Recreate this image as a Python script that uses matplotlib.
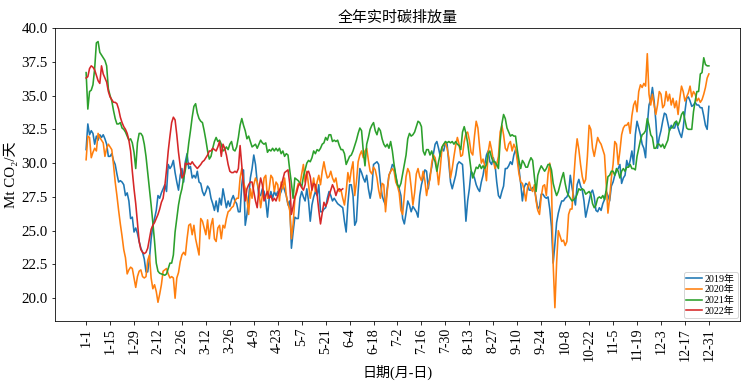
import numpy as np
import matplotlib
matplotlib.use("Agg")
import matplotlib.pyplot as plt

plt.rcParams['font.family'] = ['Liberation Serif', 'Noto Sans CJK SC', 'DejaVu Serif']
plt.rcParams['axes.unicode_minus'] = False

# daily emissions, Mt CO2 per day
y2019 = [
    31.0, 32.9, 32.1, 32.4, 32.2, 31.4, 32.0, 31.7, 32.1, 31.9, 32.1, 31.8, 31.4, 30.5,
    30.5, 30.7, 30.2, 29.9, 29.2, 28.6, 28.7, 28.6, 28.4, 27.6, 27.8, 27.2, 25.9, 26.0,
    24.9, 25.2, 24.8, 24.2, 23.7, 23.4, 22.9, 21.95, 21.95, 22.9, 24.4, 25.4, 25.9, 26.5,
    27.6, 27.4, 27.8, 28.1, 28.4, 27.9, 29.9, 29.6, 29.8, 30.2, 29.3, 28.6, 28.0, 29.1,
    29.6, 28.6, 30.1, 30.7, 29.6, 29.75, 28.9, 29.1, 28.9, 29.4, 28.6, 28.5, 27.9, 27.6,
    27.9, 28.3, 28.1, 27.4, 27.0, 26.5, 27.2, 26.4, 27.4, 26.9, 28.1, 27.4, 26.7, 27.2,
    26.8, 27.3, 27.6, 27.2, 27.0, 26.4, 26.4, 28.4, 29.5, 25.4, 26.2, 27.4, 28.9, 29.6,
    30.6, 29.9, 28.6, 27.6, 27.6, 28.1, 27.9, 27.2, 26.0, 27.4, 27.9, 27.4, 27.9, 27.6,
    27.9, 27.6, 27.9, 28.4, 28.0, 27.6, 26.9, 27.2, 23.7, 24.9, 26.0, 25.9, 25.9, 27.4,
    27.9, 27.5, 27.2, 28.1, 27.2, 25.7, 26.9, 27.5, 27.9, 27.6, 28.4, 26.4, 26.4, 26.6,
    26.7, 27.4, 27.9, 27.6, 27.2, 27.4, 27.2, 27.0, 26.9, 26.8, 26.7, 25.7, 24.9, 27.0,
    28.4, 28.4, 27.6, 25.4, 25.7, 27.9, 29.6, 29.3, 28.9, 28.6, 29.1, 28.1, 27.4, 28.1,
    29.9, 30.0, 30.1, 29.9, 28.6, 27.6, 27.2, 26.9, 28.1, 29.1, 29.4, 29.9, 29.75, 29.0,
    28.4, 28.1, 27.6, 25.9, 25.5, 26.3, 27.2, 26.9, 26.4, 26.8, 26.6, 26.4, 26.0, 27.6,
    28.4, 28.9, 29.5, 29.4, 28.1, 29.1, 29.7, 30.7, 31.4, 31.6, 31.1, 30.5, 31.1, 30.9,
    31.5, 31.4, 30.0, 28.6, 28.1, 28.6, 29.1, 29.9, 30.1, 30.0, 29.9, 28.0, 25.7, 27.2,
    28.1, 29.4, 29.2, 28.9, 28.4, 28.1, 27.9, 28.6, 29.1, 29.9, 30.6, 30.9, 30.1, 29.9,
    30.4, 29.9, 28.6, 27.6, 27.4, 27.9, 28.3, 29.6, 29.6, 29.8, 30.1, 29.9, 30.6, 31.0,
    30.5, 29.6, 28.5, 27.2, 28.2, 28.5, 28.4, 28.0, 28.0, 28.2, 28.1, 27.4, 26.6, 26.8,
    27.7, 27.7, 27.5, 27.4, 27.5, 26.6, 25.3, 22.6, 24.0, 25.6, 26.3, 26.8, 27.2, 27.2,
    27.4, 27.5, 27.8, 29.1, 28.2, 27.5, 26.9, 28.4, 28.8, 28.3, 28.0, 27.2, 26.0, 26.6,
    27.2, 27.8, 28.0, 27.5, 26.5, 26.4, 26.7, 26.5, 27.0, 27.3, 27.9, 27.6, 27.2, 28.3,
    28.6, 29.1, 29.4, 29.6, 29.9, 28.5, 28.9, 29.1, 30.2, 29.7, 30.2, 30.9, 29.9, 32.1,
    33.1, 32.6, 32.1, 31.4, 31.1, 30.4, 32.8, 34.3, 34.7, 35.6, 34.6, 33.1, 31.1, 31.9,
    32.4, 33.1, 33.7, 33.6, 33.0, 32.4, 32.8, 32.6, 32.6, 33.1, 32.6, 32.2, 31.9, 32.6,
    33.8, 34.8, 34.9, 34.6, 34.2, 34.3, 34.5, 34.3, 34.3, 34.1, 34.1, 33.5, 32.8, 32.5,
    34.2,
]

y2020 = [
    30.25, 32.0, 31.9, 30.4, 30.8, 31.1, 30.9, 32.2, 31.9, 31.7, 31.5, 30.5, 31.1, 31.4,
    31.2, 31.0, 29.9, 28.6, 27.6, 26.5, 25.5, 24.6, 23.6, 23.0, 21.8, 22.1, 22.3, 22.2,
    21.5, 20.8, 21.6, 22.0, 22.1, 21.6, 21.5, 21.6, 22.8, 23.2, 21.5, 20.7, 21.0, 20.5,
    19.7, 20.3, 21.0, 22.0, 22.1, 22.2, 21.8, 21.5, 21.6, 21.5, 20.0, 21.5, 21.9, 22.7,
    23.2, 23.4, 23.2, 24.4, 25.4, 25.5, 24.7, 25.4, 24.4, 23.8, 23.2, 25.9, 25.7, 25.2,
    24.7, 25.8, 24.4, 25.4, 25.9, 24.4, 24.2, 25.2, 25.4, 24.4, 25.4, 25.2, 25.9, 26.4,
    26.5, 26.7, 26.8, 27.2, 27.4, 27.4, 28.9, 29.6, 28.6, 28.1, 27.4, 26.2, 28.1, 27.4,
    28.4, 28.9, 28.6, 27.9, 26.7, 27.6, 28.9, 29.1, 27.4, 28.1, 29.1, 28.9, 27.9, 28.6,
    28.4, 27.2, 28.6, 28.1, 28.9, 27.6, 27.0, 26.5, 24.4, 25.5, 27.3, 28.0, 28.5, 28.4,
    29.2, 29.9, 28.6, 29.4, 28.4, 27.4, 28.1, 28.9, 27.9, 28.6, 29.1, 28.4, 29.4, 30.1,
    29.4, 28.9, 29.0, 29.4, 28.9, 28.6, 28.9, 28.1, 27.9, 28.0, 27.4, 26.9, 27.9, 29.3,
    28.6, 29.5, 30.1, 27.6, 28.6, 30.1, 30.6, 30.9, 30.4, 30.9, 31.1, 30.2, 29.4, 29.2,
    29.7, 29.5, 28.9, 28.0, 27.4, 28.5, 28.4, 26.4, 27.9, 29.1, 29.4, 29.6, 29.4, 28.6,
    28.3, 27.8, 26.5, 26.2, 27.6, 29.0, 29.6, 29.3, 28.2, 26.9, 27.8, 29.2, 29.6, 29.0,
    28.7, 29.4, 28.7, 27.6, 28.4, 28.8, 30.0, 30.6, 30.4, 29.6, 28.4, 29.6, 31.1, 31.4,
    31.5, 31.1, 30.4, 28.9, 29.6, 30.5, 31.3, 31.9, 31.4, 30.5, 30.6, 31.6, 32.2, 32.3,
    31.7, 30.8, 30.6, 32.0, 33.1, 32.6, 31.2, 30.0, 30.3, 29.8, 28.7, 30.8, 31.6, 31.0,
    30.2, 29.6, 29.9, 30.5, 32.3, 32.8, 32.1, 31.1, 30.9, 31.4, 31.6, 30.9, 31.4, 31.1,
    30.2, 29.2, 28.6, 28.5, 28.0, 27.2, 28.2, 28.6, 28.1, 27.9, 28.4, 27.2, 26.5, 26.2,
    27.5, 28.3, 28.4, 27.6, 29.2, 30.0, 28.4, 22.5, 19.3, 22.6, 25.0, 24.6, 24.2, 24.3,
    23.9, 24.2, 26.2, 26.6, 26.6, 28.8, 30.6, 31.8, 31.0, 29.9, 29.0, 28.5, 28.8, 30.5,
    32.8, 32.5, 31.1, 30.5, 31.2, 31.9, 31.6, 31.4, 31.0, 30.6, 28.4, 26.3, 27.4, 28.9,
    29.9, 31.6, 31.4, 29.9, 30.9, 32.1, 32.6, 32.8, 32.8, 33.0, 32.2, 33.5, 34.3, 34.6,
    33.8, 35.3, 35.8, 35.6, 35.9, 35.7, 38.1, 35.1, 34.3, 35.1, 34.3, 33.6, 34.3, 35.3,
    35.1, 34.1, 34.3, 35.3, 34.6, 35.1, 34.3, 34.8, 34.1, 34.6, 33.6, 34.8, 35.7, 35.3,
    34.6, 34.9, 35.2, 35.7, 34.9, 35.3, 35.1, 34.6, 34.8, 34.5, 34.7, 35.1, 35.6, 36.3,
    36.6,
]

y2021 = [
    36.7, 34.0, 35.3, 35.4, 35.8, 37.0, 38.9, 39.0, 38.2, 38.0, 37.8, 37.6, 37.2, 35.5,
    35.0, 34.6, 33.9, 33.3, 32.9, 32.9, 33.0, 32.6, 32.5, 32.3, 32.0, 31.7, 31.8, 31.5,
    30.8, 29.6, 31.5, 32.2, 32.2, 32.0, 31.4, 30.5, 29.3, 28.1, 26.9, 25.6, 24.2, 22.6,
    22.0, 21.85, 21.8, 21.75, 21.7, 21.8, 22.2, 22.6, 22.6, 23.2, 24.9, 25.9, 26.9, 27.6,
    28.1, 28.9, 29.5, 30.4, 31.5, 32.4, 33.4, 34.2, 34.4, 33.7, 33.3, 33.1, 33.0, 32.4,
    31.7, 30.9, 30.3, 30.5, 31.1, 31.6, 31.9, 31.6, 31.7, 31.4, 30.9, 31.0, 31.2, 31.0,
    31.4, 31.6, 31.0, 30.9, 31.2, 31.9, 32.8, 33.3, 32.8, 32.4, 31.8, 32.0, 31.6, 31.2,
    31.3, 31.4, 31.1, 31.4, 31.7, 31.5, 31.4, 31.5, 30.8, 31.0, 30.9, 31.1, 30.9, 31.1,
    30.9, 31.1, 30.7, 30.9, 30.5, 30.7, 30.6, 29.5, 28.5, 27.4, 28.9, 28.8, 28.7, 28.5,
    28.2, 29.0, 29.5, 30.0, 30.2, 30.1, 30.4, 30.9, 30.7, 31.0, 30.9, 31.1, 31.4, 31.5,
    31.9, 31.7, 32.1, 32.1, 31.6, 31.7, 31.6, 31.7, 31.3, 31.0, 31.0, 30.7, 29.9, 30.2,
    30.5, 30.6, 30.9, 31.3, 31.7, 32.2, 32.6, 32.4, 30.9, 29.8, 31.4, 31.9, 32.5, 32.8,
    33.0, 32.4, 32.1, 32.6, 32.4, 31.8, 31.4, 31.2, 31.4, 31.1, 31.6, 30.9, 29.9, 29.1,
    28.4, 28.2, 28.5, 29.2, 29.9, 30.6, 31.8, 32.2, 32.0, 32.1, 32.3, 32.7, 33.1, 33.0,
    32.7, 30.9, 30.6, 31.0, 31.0, 30.6, 30.9, 30.4, 30.1, 29.4, 30.1, 30.7, 31.2, 31.4,
    31.6, 31.5, 31.6, 31.5, 31.6, 31.4, 31.6, 31.4, 31.3, 31.0, 32.3, 32.7, 32.2, 31.5,
    30.5, 29.5, 28.9, 29.3, 29.7, 29.6, 29.9, 29.6, 29.8, 29.6, 29.9, 30.7, 30.9, 30.4,
    30.1, 30.1, 29.9, 29.6, 31.6, 32.9, 33.6, 33.3, 32.6, 32.3, 32.0, 32.1, 32.0, 32.0,
    31.0, 30.2, 29.6, 30.2, 30.0, 29.7, 29.7, 30.1, 30.4, 30.2, 29.0, 27.9, 29.1, 29.5,
    29.8, 29.6, 29.4, 29.6, 29.9, 29.9, 29.5, 28.5, 28.0, 27.6, 27.9, 28.4, 28.9, 29.3,
    28.5, 27.9, 27.6, 27.4, 27.2, 27.3, 27.4, 27.7, 28.1, 28.0, 28.1, 28.0, 27.7, 27.8,
    27.9, 27.7, 27.0, 26.7, 26.9, 27.4, 27.5, 27.4, 27.6, 27.3, 28.0, 29.0, 29.1, 29.4,
    29.4, 29.1, 29.6, 29.4, 28.9, 29.4, 29.6, 29.4, 29.7, 29.7, 29.9, 29.6, 29.6, 29.5,
    30.5, 31.1, 31.7, 32.1, 32.2, 32.4, 33.3, 32.8, 32.1, 31.9, 31.1, 31.1, 31.4, 31.4,
    31.2, 31.4, 31.1, 31.4, 31.7, 32.5, 32.6, 32.7, 33.0, 33.1, 32.8, 33.1, 33.6, 33.8,
    33.2, 32.6, 32.5, 32.5, 32.5, 33.8, 34.6, 35.3, 35.3, 36.6, 36.7, 37.8, 37.3, 37.2,
    37.2,
]

y2022 = [
    36.3, 36.4, 37.0, 37.2, 37.1, 36.9, 36.5, 36.1, 35.9, 37.2, 36.6, 36.3, 36.0, 35.3,
    34.9, 34.7, 34.5, 34.5, 34.4, 34.0, 33.4, 33.0, 32.7, 32.5, 32.2, 31.7, 30.9, 29.4,
    28.1, 27.0, 25.6, 24.2, 23.6, 23.4, 23.3, 23.4, 23.7, 24.4, 25.1, 25.4, 25.6, 25.9,
    26.2, 26.6, 27.1, 27.4, 28.3, 29.5, 30.9, 32.0, 33.0, 33.4, 33.2, 32.1, 30.8, 29.8,
    28.9, 29.1, 30.0, 29.9, 30.0, 29.9, 30.1, 29.9, 29.75, 29.6, 29.75, 29.9, 30.1, 30.2,
    30.4, 30.6, 30.9, 30.9, 31.1, 31.0, 30.9, 31.2, 31.6, 30.5, 31.4, 31.1, 30.6, 29.9,
    29.4, 29.3, 29.3, 29.4, 29.3, 29.6, 31.3, 29.8, 28.3, 27.2, 28.1, 28.4, 28.6, 28.6,
    27.9, 27.2, 26.7, 28.1, 28.9, 28.4, 27.2, 27.6, 27.9, 27.4, 27.6, 27.2, 27.4, 27.2,
    27.6, 28.0, 28.3, 28.8, 29.3, 29.4, 29.5, 28.5, 26.2, 26.8, 27.5, 27.8, 28.3, 28.5,
    28.2, 28.0, 28.4, 29.3, 29.4, 29.0, 28.0, 28.5, 28.4, 27.7, 26.5, 25.5, 26.3, 27.1,
    26.8, 27.1, 27.6, 28.0, 28.4, 28.1, 27.6, 28.0, 28.1, 28.0, 28.1,
]

series = {'2019年': y2019, '2020年': y2020, '2021年': y2021, '2022年': y2022}

tick_labels = ['1-1', '1-15', '1-29', '2-12', '2-26', '3-12', '3-26', '4-9',
               '4-23', '5-7', '5-21', '6-4', '6-18', '7-2', '7-16', '7-30',
               '8-13', '8-27', '9-10', '9-24', '10-8', '10-22', '11-5',
               '11-19', '12-3', '12-17', '12-31']

fig = plt.figure(figsize=(749 / 72, 386 / 72), dpi=72)
ax = fig.add_axes([0.0734, 0.1684, 0.9146, 0.759])

for name, vals in series.items():
    ax.plot(np.arange(len(vals)), vals, label=name, linewidth=1.6)

ax.set_xticks(np.arange(0, 365, 14))
ax.set_xticklabels(tick_labels, rotation=90, fontsize=14)
ax.set_yticks(np.arange(20, 40.1, 2.5))
ax.set_yticklabels([f'{v:.1f}' for v in np.arange(20, 40.1, 2.5)], fontsize=15)

ax.set_title('全年实时碳排放量', fontsize=15)
ax.set_xlabel('日期(月-日)', fontsize=14)
ax.set_ylabel('Mt CO\u2082/天', fontsize=15)
ax.legend(loc='lower right', fontsize=10, handlelength=1.6, handletextpad=0.3,
          labelspacing=0.15, borderpad=0.25, borderaxespad=0.25)

fig.savefig('out.png', dpi=72)
